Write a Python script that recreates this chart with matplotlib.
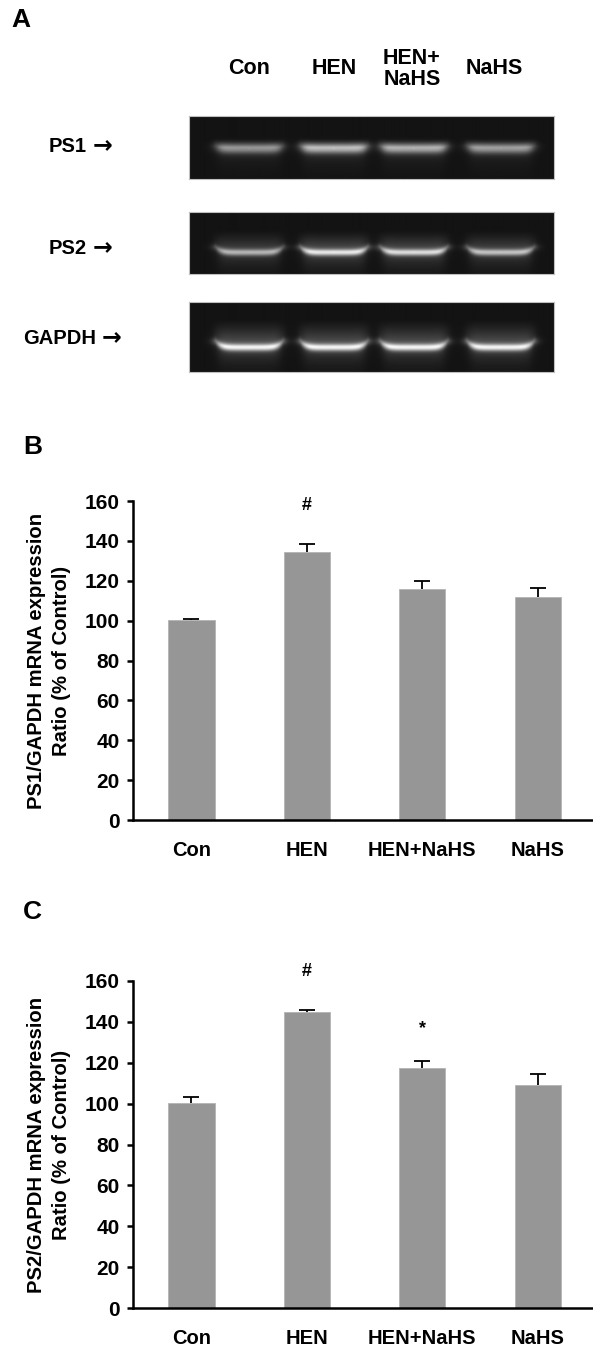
import matplotlib
matplotlib.use('Agg')
import matplotlib.pyplot as plt
import numpy as np

plt.rcParams['font.family'] = ['Liberation Sans', 'DejaVu Sans']
plt.rcParams['font.weight'] = 'bold'

# ---- data ----
groups = ['Con', 'HEN', 'HEN+NaHS', 'NaHS']
lane_labels = ['Con', 'HEN', 'HEN+\nNaHS', 'NaHS']
gel_rows = ['PS1', 'PS2', 'GAPDH']

# band brightness (0..1)
ps1_band = [0.6, 0.78, 0.72, 0.64]
ps2_band = [0.72, 0.95, 0.9, 0.78]
gapdh_band = [1.0, 1.0, 1.0, 1.0]

ps1_mean = [100.1, 134.5, 115.7, 111.8]
ps1_sem = [0.6, 4.1, 4.1, 4.8]
ps1_marks = ['', '#', '', '']
ps1_mark_y = [0, 157.5, 0, 0]

ps2_mean = [100.2, 144.8, 117.3, 109.0]
ps2_sem = [3.1, 0.9, 3.8, 5.6]
ps2_marks = ['', '#', '*', '']
ps2_mark_y = [0, 164.5, 136.5, 0]

yticks = [0, 20, 40, 60, 80, 100, 120, 140, 160]

W, H = 593, 1347
fig = plt.figure(figsize=(W / 100, H / 100), dpi=100)


def fx(x):
    return x / W


def fy(y):
    return 1 - y / H


def make_gel(bands, height, row, smile, haze_top, lower_haze, sig):
    # soft synthetic gel lane image at screen resolution
    width = 366
    xx = np.arange(width)[None, :].astype(float)
    yy = np.arange(height)[:, None].astype(float)
    img = np.full((height, width), 0.075)
    centers = [60, 145, 225, 312]
    for c, b in zip(centers, bands):
        d = np.clip((xx - c) / 31.0, -1.1, 1.1)
        lane = 1 / (1 + np.exp((np.abs(xx - c) - 31) / 3.0))
        r = row - smile * d ** 6
        line = np.exp(-((yy - r) / sig) ** 2)
        # haze above the bright edge
        up = np.clip((yy - haze_top) / (r - haze_top), 0, 1) ** 1.4 * (yy <= r)
        below = np.exp(-np.clip(yy - r, 0, None) / 10.0) * (yy > r)
        prof = 0.7 * line + 0.35 * up + lower_haze * below
        edge = 1 + 0.3 * np.abs(d) ** 5
        img = img + b * lane * prof * edge * 0.9
    return np.clip(img, 0, 1)


gel_boxes = [(116, 179), (212, 274), (302, 372)]
gel_imgs = [
    make_gel(ps1_band, 63, 32, 1.0, 22, 0.22, 5.0),
    make_gel(ps2_band, 62, 40, 3.0, 17, 0.28, 3.2),
    make_gel(gapdh_band, 70, 45, 3.5, 16, 0.28, 3.5),
]
gel_label_x = [49, 49, 23]
gel_label_y = [146, 248, 338]

for (top, bot), img, name, lx, ly in zip(gel_boxes, gel_imgs, gel_rows, gel_label_x, gel_label_y):
    gax = fig.add_axes([fx(189), fy(bot), fx(554) - fx(189), fy(top) - fy(bot)])
    gax.imshow(img, cmap='gray', vmin=0, vmax=1, aspect='auto', interpolation='bicubic')
    gax.set_xticks([])
    gax.set_yticks([])
    for s in gax.spines.values():
        s.set_color('#c0c0c0')
        s.set_linewidth(0.8)
    t = fig.text(fx(lx), fy(ly), name, ha='left', va='center', fontsize=14.5, fontweight='bold')
    fig.canvas.draw()
    bb = t.get_window_extent()
    fig.text(bb.x1 / fig.dpi / fig.get_figwidth() + fx(6), fy(ly) + 0.0007, '\u2192',
             ha='left', va='center', fontsize=17, fontweight='bold', family='DejaVu Sans')

lane_x = [249, 334, 412, 494]
for lx, lab in zip(lane_x, lane_labels):
    fig.text(fx(lx), fy(69), lab, ha='center', va='center', fontsize=15.5,
             fontweight='bold', linespacing=1.05)

fig.text(fx(21), fy(20), 'A', ha='center', va='center', fontsize=19, fontweight='bold')
fig.text(fx(33), fy(447), 'B', ha='center', va='center', fontsize=19, fontweight='bold')
fig.text(fx(32), fy(912), 'C', ha='center', va='center', fontsize=19, fontweight='bold')


def bar_panel(top, bot, means, sems, marks, mark_y, ylabel):
    ax = fig.add_axes([fx(133), fy(bot), 1 - fx(133), fy(top) - fy(bot)])
    x = np.arange(len(groups))
    ax.bar(x, means, width=0.4, color='#969696', edgecolor='#b4b4b4', linewidth=0.6, zorder=2)
    eb = ax.errorbar(x, means, yerr=[np.zeros(len(means)), sems], fmt='none',
                     ecolor='black', elinewidth=1.3, capsize=6, capthick=1.3, zorder=3)
    eb[1][0].set_visible(False)
    for xi, m, my in zip(x, marks, mark_y):
        if m:
            ax.text(xi, my, m, ha='center', va='center', fontsize=13,
                    fontweight='bold', clip_on=False)
    ax.set_xlim(-0.507, 3.48)
    ax.set_ylim(0, 160)
    ax.set_yticks(yticks)
    ax.set_xticks(x)
    ax.set_xticklabels(groups)
    for s in ['top', 'right']:
        ax.spines[s].set_visible(False)
    for s in ['left', 'bottom']:
        ax.spines[s].set_linewidth(1.8)
    ax.tick_params(axis='y', direction='out', length=4.5, width=1.8, pad=5,
                   labelsize=15)
    ax.tick_params(axis='x', length=0, pad=15, labelsize=14.5)
    for t in ax.get_xticklabels() + ax.get_yticklabels():
        t.set_fontweight('bold')
    fig.text(fx(49), fy((top + bot) / 2), ylabel, rotation=90, ha='center', va='center',
             fontsize=14.6, fontweight='bold', linespacing=1.4)
    return ax


bar_panel(501, 820, ps1_mean, ps1_sem, ps1_marks, ps1_mark_y,
          'PS1/GAPDH mRNA expression\nRatio (% of Control)')
bar_panel(981, 1308, ps2_mean, ps2_sem, ps2_marks, ps2_mark_y,
          'PS2/GAPDH mRNA expression\nRatio (% of Control)')

plt.savefig('out.png', dpi=100)
